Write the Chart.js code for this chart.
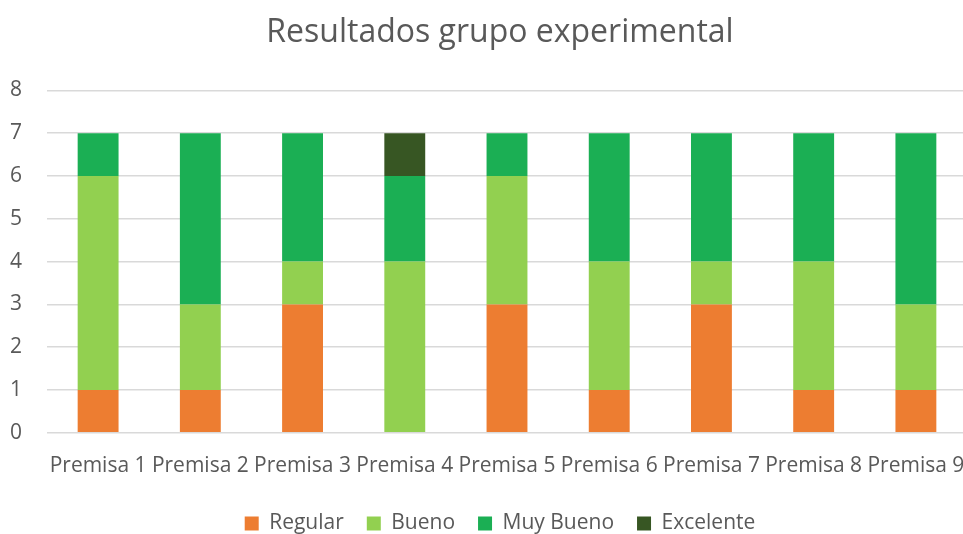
<!DOCTYPE html>
<html>
<head>
<meta charset="utf-8">
<script src="https://cdn.jsdelivr.net/npm/chart.js@4.4.0/dist/chart.umd.min.js"></script>
<style>
  html, body { margin: 0; padding: 0; background: #fff; overflow: hidden; }
  #wrap { width: 1000px; height: 534px; }
</style>
</head>
<body>
<div id="wrap"><canvas id="chart"></canvas></div>
<script>
// datos
var premisas = ['Premisa 1', 'Premisa 2', 'Premisa 3', 'Premisa 4', 'Premisa 5', 'Premisa 6', 'Premisa 7', 'Premisa 8', 'Premisa 9'];
var regular   = [1, 1, 3, 0, 3, 1, 3, 1, 1];
var bueno     = [5, 2, 1, 4, 3, 3, 1, 3, 2];
var muyBueno  = [1, 4, 3, 2, 1, 3, 3, 3, 4];
var excelente = [0, 0, 0, 1, 0, 0, 0, 0, 0];
var yTicks = [0, 1, 2, 3, 4, 5, 6, 7, 8];

var fuente = "'Open Sans', sans-serif";
var gris = '#595959';

var ctx = document.getElementById('chart').getContext('2d');
var chart = new Chart(ctx, {
    type: 'bar',
    data: {
        labels: premisas,
        datasets: [
            { label: 'Regular', data: regular, backgroundColor: '#ED7D31' },
            { label: 'Bueno', data: bueno, backgroundColor: '#92D050' },
            { label: 'Muy Bueno', data: muyBueno, backgroundColor: '#1BAF54' },
            { label: 'Excelente', data: excelente, backgroundColor: '#375623' }
        ]
    },
    options: {
        responsive: true,
        maintainAspectRatio: false,
        animation: false,
        datasets: {
            bar: { barPercentage: 0.4, categoryPercentage: 1.0 }
        },
        layout: { padding: { left: 0, right: 0, top: 14, bottom: -10 } },
        plugins: {
            title: {
                display: true,
                text: 'Resultados grupo experimental',
                color: gris,
                font: { family: fuente, size: 32, weight: 'normal' },
                padding: { top: 0, bottom: 38 }
            },
            legend: {
                position: 'bottom',
                labels: {
                    color: gris,
                    font: { family: fuente, size: 21 },
                    boxWidth: 14,
                    boxHeight: 14,
                    padding: 23
                }
            },
            tooltip: { enabled: false }
        },
        scales: {
            x: {
                stacked: true,
                afterFit: function (scale) {
                    scale.height -= 2;
                    scale.paddingLeft = 0;
                    scale.paddingRight = 0;
                },
                grid: { display: false },
                border: { display: false },
                ticks: {
                    color: gris,
                    font: { family: fuente, size: 21 },
                    padding: 13,
                    maxRotation: 0,
                    autoSkip: false
                }
            },
            y: {
                stacked: true,
                min: 0,
                max: 8,
                afterFit: function (scale) { scale.width = 47; },
                afterBuildTicks: function (scale) {
                    scale.ticks = yTicks.map(function (v) { return { value: v }; });
                },
                grid: { color: '#D9D9D9', lineWidth: 1.5, drawTicks: false },
                border: { display: false },
                ticks: {
                    color: gris,
                    font: { family: fuente, size: 21 },
                    padding: 25
                }
            },
            // eje vacio a la derecha, solo reserva espacio
            derecha: {
                type: 'linear',
                position: 'right',
                afterFit: function (scale) { scale.width = 33; },
                grid: { display: false },
                border: { display: false },
                ticks: { display: false }
            }
        }
    }
});
</script>
</body>
</html>
